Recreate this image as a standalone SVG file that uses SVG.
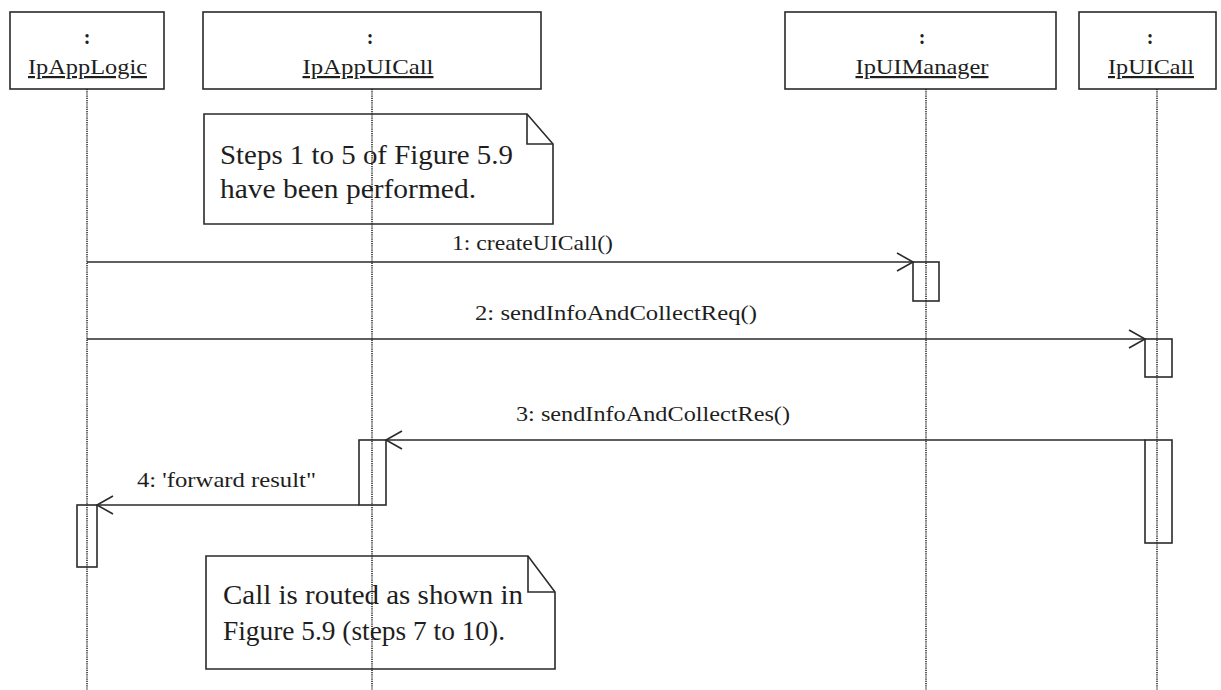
<svg xmlns="http://www.w3.org/2000/svg" width="1221" height="690" viewBox="0 0 1221 690">
  <style>
    .obj { fill: #ffffff; stroke: #2a2a2a; stroke-width: 1.6; }
    .life { fill: none; stroke: #1e1e1e; stroke-width: 1.5; stroke-dasharray: 1.2 1; }
    .act { fill: none; stroke: #2a2a2a; stroke-width: 1.6; }
    .msg { fill: none; stroke: #2a2a2a; stroke-width: 1.5; }
    .note { fill: none; stroke: #2a2a2a; stroke-width: 1.6; }
    .name { font-family: "Liberation Serif", "DejaVu Serif", serif; font-size: 22px; fill: #1e1e1e; text-anchor: middle; text-decoration: underline; }
    .colon { font-family: "Liberation Serif", "DejaVu Serif", serif; font-size: 20px; font-weight: bold; fill: #1e1e1e; text-anchor: middle; }
    .label { font-family: "Liberation Serif", "DejaVu Serif", serif; font-size: 22px; fill: #1e1e1e; }
    .ntext { font-family: "Liberation Serif", "DejaVu Serif", serif; font-size: 28px; fill: #1e1e1e; }
  </style>
  <defs>
    <marker id="open" markerUnits="userSpaceOnUse" viewBox="-18 -11 20 22" refX="0" refY="0" markerWidth="20" markerHeight="22" orient="auto">
      <path d="M-16,-9 L0,0 L-16,9" fill="none" stroke="#2a2a2a" stroke-width="1.6"/>
    </marker>
  </defs>

  <rect width="1221" height="690" fill="#ffffff"/>

  <!-- object heads -->
  <g id="ipAppLogic">
    <rect class="obj" x="10" y="12" width="154" height="77"/>
    <text class="colon" x="87" y="44">:</text>
    <text class="name" x="87.5" y="74" textLength="119" lengthAdjust="spacingAndGlyphs">IpAppLogic</text>
  </g>
  <g id="ipAppUICall">
    <rect class="obj" x="203" y="12" width="338" height="77"/>
    <text class="colon" x="370" y="44">:</text>
    <text class="name" x="368" y="74" textLength="131" lengthAdjust="spacingAndGlyphs">IpAppUICall</text>
  </g>
  <g id="ipUIManager">
    <rect class="obj" x="785" y="12" width="271" height="77"/>
    <text class="colon" x="922" y="44">:</text>
    <text class="name" x="922" y="74" textLength="133" lengthAdjust="spacingAndGlyphs">IpUIManager</text>
  </g>
  <g id="ipUICall">
    <rect class="obj" x="1079" y="12" width="137" height="77"/>
    <text class="colon" x="1150" y="44">:</text>
    <text class="name" x="1151" y="74" textLength="86" lengthAdjust="spacingAndGlyphs">IpUICall</text>
  </g>

  <!-- notes -->
  <g id="note1">
    <path class="note" d="M204,114 H527 L553,144 V224 H204 Z"/>
    <path class="note" d="M527,114 V144 H553"/>
    <text class="ntext" x="220" y="164" textLength="293" lengthAdjust="spacingAndGlyphs">Steps 1 to 5 of Figure 5.9</text>
    <text class="ntext" x="220" y="198" textLength="256" lengthAdjust="spacingAndGlyphs">have been performed.</text>
  </g>
  <g id="note2">
    <path class="note" d="M206,556 H528 L555,592 V669 H206 Z"/>
    <path class="note" d="M528,556 V592 H555"/>
    <text class="ntext" x="223" y="604" textLength="300" lengthAdjust="spacingAndGlyphs">Call is routed as shown in</text>
    <text class="ntext" x="223" y="640" textLength="282" lengthAdjust="spacingAndGlyphs">Figure 5.9 (steps 7 to 10).</text>
  </g>

  <!-- lifelines and activations -->
  <g id="lifelines">
    <line class="life" x1="87" y1="89" x2="87" y2="690"/>
    <line class="life" x1="372" y1="89" x2="372" y2="690"/>
    <line class="life" x1="926" y1="89" x2="926" y2="690"/>
    <line class="life" x1="1157" y1="89" x2="1157" y2="690"/>
  </g>
  <g id="activations">
    <rect class="act" x="913" y="262" width="26" height="39"/>
    <rect class="act" x="1145" y="339" width="27" height="38"/>
    <rect class="act" x="1145" y="440" width="27" height="103"/>
    <rect class="act" x="359" y="440" width="27" height="65"/>
    <rect class="act" x="77" y="505" width="20" height="62"/>
  </g>

  <!-- messages -->
  <g id="connectors">
    <line class="msg" x1="87" y1="262" x2="913" y2="262" marker-end="url(#open)"/>
    <line class="msg" x1="87" y1="339" x2="1145" y2="339" marker-end="url(#open)"/>
    <line class="msg" x1="1145" y1="440" x2="386" y2="440" marker-end="url(#open)"/>
    <line class="msg" x1="359" y1="505" x2="97" y2="505" marker-end="url(#open)"/>
    <text class="label" x="452" y="250" textLength="161" lengthAdjust="spacingAndGlyphs">1: createUICall()</text>
    <text class="label" x="475" y="320" textLength="282" lengthAdjust="spacingAndGlyphs">2: sendInfoAndCollectReq()</text>
    <text class="label" x="516" y="421" textLength="274" lengthAdjust="spacingAndGlyphs">3: sendInfoAndCollectRes()</text>
    <text class="label" x="137" y="487" textLength="179" lengthAdjust="spacingAndGlyphs">4: 'forward result"</text>
  </g>
</svg>
